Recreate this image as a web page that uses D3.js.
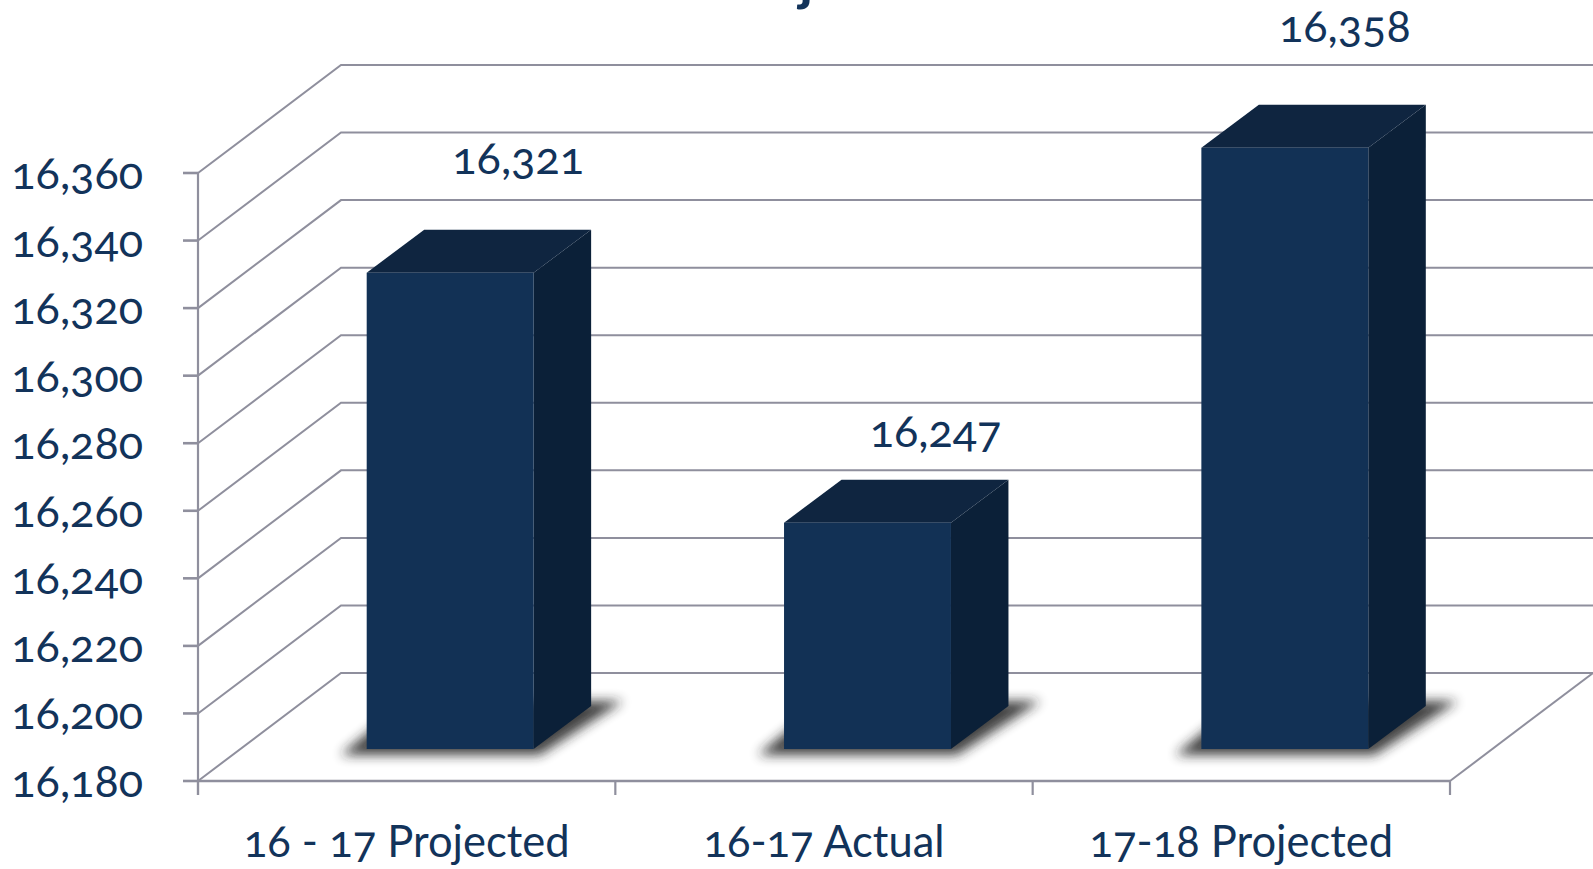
<!DOCTYPE html>
<html><head><meta charset="utf-8">
<script src="https://cdn.jsdelivr.net/npm/d3@7"></script>
<style>html,body{margin:0;padding:0;background:#fff;overflow:hidden}</style>
</head><body><svg id="c" width="1593" height="869" style="display:block"></svg>
<script>
const categories = ["16 - 17 Projected", "16-17 Actual", "17-18 Projected"];
const values = [16321, 16247, 16358];
const yTicks = [16180,16200,16220,16240,16260,16280,16300,16320,16340,16360];
const yMin = 16180, yMax = 16360;

const W=1593,H=869, pL=198, pR=1450, pB=781, pT=173, depthX=143, depthY=108;
const barDX=57.5, barDY=43, barOffX=43.5, barOffY=32;
const labelShift=[[68,-99],[68,-76],[60,-106]];
const FONT="'Lato'", INK="#12335a", GRID="#8f8f9d";
const svg=d3.select("#c");
const defs=svg.append("defs");
defs.append("filter").attr("id","blur").attr("x","-20%").attr("y","-40%").attr("width","140%").attr("height","180%")
  .append("feGaussianBlur").attr("stdDeviation",6);
const x=d3.scaleBand().domain(categories).range([pL,pR]).paddingInner(0).paddingOuter(0);
const y=d3.scaleLinear().domain([yMin,yMax]).range([pB,pT]);
const grid=svg.append("g").attr("fill","none").attr("stroke",GRID).attr("stroke-width",2);
yTicks.forEach(t=>{
  grid.append("path").attr("d",`M${pL},${y(t)}L${pL+depthX},${y(t)-depthY}L${W+5},${y(t)-depthY}`).attr("stroke-linejoin","miter");
  grid.append("line").attr("x1",pL-15).attr("x2",pL).attr("y1",y(t)).attr("y2",y(t)).attr("stroke-width",2.6);
});
grid.append("line").attr("x1",pL).attr("x2",pL).attr("y1",pT).attr("y2",pB+14).attr("stroke-width",2.2);
grid.append("line").attr("x1",pL).attr("x2",pR).attr("y1",pB).attr("y2",pB).attr("stroke-width",2.6);
grid.append("line").attr("x1",pR).attr("x2",pR+depthX).attr("y1",pB).attr("y2",pB-depthY);
[...categories.map(c=>x(c)),pR].forEach(v=>grid.append("line").attr("x1",v).attr("x2",v).attr("y1",pB).attr("y2",pB+14).attr("stroke-width",2.2));

const bars=svg.append("g");
const yBar=v=>y(v)-barOffY;
categories.forEach((c,i)=>{
  const bw=x.bandwidth()*0.4, x0=x(c)+x.bandwidth()/2+barOffX-bw/2, x1=x0+bw, b=pB-barOffY, t=yBar(values[i]);
  bars.append("path").attr("d",`M${x0-26},${b+6}L${x1+6},${b+6}L${x1+barDX+32},${b-48}L${x0+40},${b-48}Z`).attr("fill","#222").attr("opacity",.85).attr("filter","url(#blur)");
  bars.append("path").attr("d",`M${x1},${t}L${x1+barDX},${t-barDY}L${x1+barDX},${b-barDY}L${x1},${b}Z`).attr("fill","#0b2038");
  bars.append("path").attr("d",`M${x0},${t}L${x0+barDX},${t-barDY}L${x1+barDX},${t-barDY}L${x1},${t}Z`).attr("fill","#0f2540");
  bars.append("rect").attr("x",x0).attr("y",t).attr("width",bw).attr("height",b-t).attr("fill","#123155");
  svg.append("text").attr("x",x0+bw/2+labelShift[i][0]).attr("y",t+labelShift[i][1]).attr("text-anchor","middle").attr("class","lab").attr("font-size",45).text(d3.format(",")(values[i]));
});
yTicks.forEach(t=>svg.append("text").attr("x",143).attr("y",y(t)+16).attr("text-anchor","end").attr("class","lab").attr("font-size",45).text(d3.format(",")(t)));
categories.forEach(c=>svg.append("text").attr("x",x(c)+x.bandwidth()/2).attr("y",857).attr("text-anchor","middle").attr("class","lab").attr("font-size",43.5).text(c));
svg.append("text").attr("x",806).attr("y",0).attr("font-weight",700).attr("text-anchor","middle").attr("class","lab").attr("font-size",56).text("j");
svg.selectAll(".lab").attr("fill",INK).attr("font-family",FONT).style("font-feature-settings","'onum' 1");
</script></body></html>
